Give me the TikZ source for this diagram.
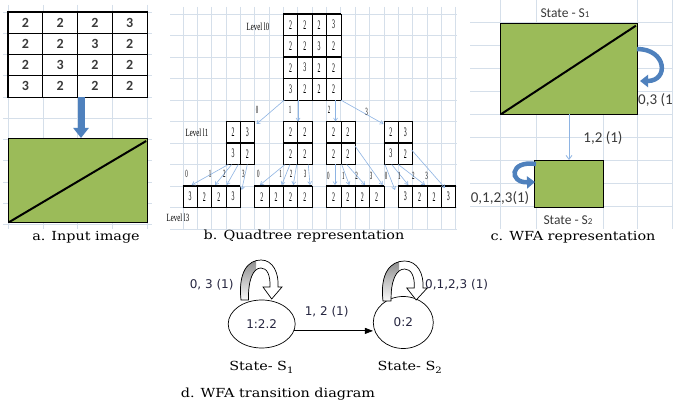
\documentclass[tikz,border=0pt]{standalone}
\usepackage{fontspec}
\usepackage{graphicx}
\setmainfont{DejaVu Serif}
\newfontfamily\calfont{Carlito}
\newfontfamily\vsans{DejaVu Sans}
\newfontfamily\tserif{Liberation Serif}
\usetikzlibrary{arrows.meta,shapes.geometric,calc}

\definecolor{gridc}{HTML}{D5DFEA}
\definecolor{leaf}{HTML}{9BBB59}
\definecolor{bluea}{HTML}{4F81BD}
\definecolor{bluel}{HTML}{8EB4E3}
\definecolor{digc}{HTML}{3A3A3A}
\definecolor{shade}{HTML}{BFBFBF}
\definecolor{labc}{HTML}{262640}

% narrow digits of the quadtree tables
\newcommand\sqz[1]{\scalebox{0.45}[1]{#1}}
\newcommand\sqzl[1]{\scalebox{0.62}[1]{#1}}
% wide serif captions
\newcommand\wide[1]{\scalebox{1.15}[1]{#1}}

\tikzset{
  gridline/.style={gridc, line width=0.5pt},
  capt/.style={font=\fontsize{12.5}{14}\selectfont, inner sep=0},
  acell/.style={draw=black, fill=white, line width=0.8pt, inner sep=0,
    minimum width=34.75pt, minimum height=21.25pt,
    font=\calfont\bfseries\fontsize{14}{14}\selectfont, text=digc},
  qcell/.style={draw=black, fill=white, line width=0.4pt, inner sep=0,
    minimum width=14.35pt, minimum height=21.5pt,
    font=\tserif\fontsize{13}{13}\selectfont},
  qlab/.style={font=\tserif\fontsize{11}{11}\selectfont, inner sep=0},
  qedge/.style={bluel, line width=0.6pt, -{Straight Barb[length=3pt,width=4pt]}},
  tile/.style={draw=black, fill=leaf, line width=1.2pt, inner sep=0, anchor=north west},
  clab/.style={font=\calfont\fontsize{15}{15}\selectfont, inner sep=0, text=digc},
  stlab/.style={font=\calfont\fontsize{13.5}{13.5}\selectfont, inner sep=0, text=digc},
  dlab/.style={font=\vsans\fontsize{12}{12}\selectfont, inner sep=0, text=labc},
  state/.style={draw=black, ellipse, line width=0.7pt, inner sep=0,
    font=\vsans\fontsize{12}{12}\selectfont, text=labc},
  loopar/.style={bluea, line width=4.5pt, -{Triangle[length=8pt,width=12pt]}},
}

% one quadtree table: name, left, top, rows of values
\newcommand\qtab[4]{%
  \foreach \row [count=\r] in {#4} {
    \foreach \v [count=\c] in \row {
      \node[qcell] (#1-\r-\c) at ({#2+14.35*(\c-0.5)},{#3+21.5*(\r-0.5)}) {\sqz{\v}};
    }
  }
  \foreach \row [count=\r] in {#4} {
    \foreach \v [count=\c] in \row {
      \draw[line width=1.3pt] (#1-\r-\c.north west) -- (#1-\r-\c.north east)
                              (#1-\r-\c.south west) -- (#1-\r-\c.south east);
    }
  }
}

% curved block arrow of a self loop
\newcommand\blockloop[1]{%
  \begin{scope}[#1]
    \fill[white] (0,0) .. controls (-3,-28) and (7,-40) .. (20,-40)
      .. controls (32,-40) and (38,-27) .. (37,-13) -- (41,-13) -- (30.7,-1)
      -- (22,-13) -- (29,-13) .. controls (29.5,-25) and (26,-32) .. (20,-32)
      .. controls (12,-32) and (7,-20) .. (7.5,0) -- cycle;
    \begin{scope}
      \clip (0,0) .. controls (-3,-28) and (7,-40) .. (20,-40)
        .. controls (32,-40) and (38,-27) .. (37,-13) -- (41,-13) -- (30.7,-1)
        -- (22,-13) -- (29,-13) .. controls (29.5,-25) and (26,-32) .. (20,-32)
        .. controls (12,-32) and (7,-20) .. (7.5,0) -- cycle;
      \fill[shade] (-6,2) rectangle (15,-45);
    \end{scope}
    \draw[line width=0.7pt] (0,0) .. controls (-3,-28) and (7,-40) .. (20,-40)
      .. controls (32,-40) and (38,-27) .. (37,-13) -- (41,-13) -- (30.7,-1)
      -- (22,-13) -- (29,-13) .. controls (29.5,-25) and (26,-32) .. (20,-32)
      .. controls (12,-32) and (7,-20) .. (7.5,0) -- cycle;
  \end{scope}
}

\begin{document}
\begin{tikzpicture}[x=1pt,y=-1pt]
\useasboundingbox (0,0) rectangle (673,406);
\fill[white] (0,0) rectangle (673,406);
\begin{scope}
\clip (0,0) rectangle (673,406);

% ---------- background grids ----------
\foreach \gx in {8,42.75,77.5,112.25,147} \draw[gridline] (\gx,5) -- (\gx,229);
\foreach \j in {0,...,10} \draw[gridline] (3,{12+21.25*\j}) -- (152,{12+21.25*\j});
\foreach \k in {1,...,20} \draw[gridline] ({168.5+14.35*\k},7) -- ++(0,222);
\foreach \j in {0,...,10} \draw[gridline] (170,{14+21.5*\j}) -- (457,{14+21.5*\j});
\foreach \j in {0,...,8} \draw[gridline] (470,{22.7+22.9*\j}) -- (673,{22.7+22.9*\j});
\foreach \gx in {500,536,637,672} \draw[gridline] (\gx,0) -- (\gx,229);
\draw[gridline] (603,114) -- (603,229);

% ---------- a. input image ----------
\foreach \row [count=\r] in {{2,2,2,3},{2,2,3,2},{2,3,2,2},{3,2,2,2}}
  \foreach \v [count=\c] in \row
    \node[acell] (a-\r-\c) at ({8+34.75*(\c-0.5)},{12+21.25*(\r-0.5)}) {\v};
\draw[line width=1.3pt] (a-1-1.north west) rectangle (a-4-4.south east);

\node[tile, minimum width=139pt, minimum height=84pt] (img) at (8,138) {};
\draw[line width=2pt] ([shift={(1,-1)}]img.south west) -- ([shift={(-2,3)}]img.north east);

\coordinate (aa) at (81,97.5);
\coordinate (ab) at (81,138);
\draw[bluea, line width=7pt, -{Triangle[length=10pt,width=15pt]}] (aa) -- (ab);

\node[capt] (capa) at (86,237) {\wide{a. Input image}};

% ---------- b. quadtree ----------
\qtab{q0}{283.3}{14}{{2,2,2,3},{2,2,3,2},{2,3,2,2},{3,2,2,2}}
\qtab{qa}{225.9}{121.5}{{2,3},{3,2}}
\qtab{qb}{283.3}{121.5}{{2,2},{2,2}}
\qtab{qc}{326.35}{121.5}{{2,2},{2,2}}
\qtab{qd}{383.75}{121.5}{{2,3},{3,2}}
\qtab{ra}{182.85}{186}{{3,2,2,3}}
\qtab{rb}{254.6}{186}{{2,2,2,2}}
\qtab{rc}{326.35}{186}{{2,2,2,2}}
\qtab{rd}{398.1}{186}{{3,2,2,3}}

\node[qlab] (lv0) at (258,27) {\sqzl{Level l0}};
\node[qlab] (lv1) at (197,133) {\sqzl{Level l1}};
\node[qlab] (lv3) at (178,218) {\sqzl{Level l3}};

% root to level one
\foreach \n/\sx/\sy/\ex/\ey/\lx/\ly/\t in {
    0/284.4/100/256.5/124/257/110/0,
    1/298/100/298/121.5/290/110/1,
    2/335.5/100/335.5/121.5/329/110/2,
    3/340.7/100/383.5/124/366.7/112/3} {
  \coordinate (u\n) at (\sx,\sy);
  \coordinate (v\n) at (\ex,\ey);
  \draw[qedge] (u\n) -- (v\n);
  \node[qlab] (m\n) at (\lx,\ly) {\sqz{\t}};
}

% level one to level two
\foreach \n/\sx/\sy/\ex/\ey/\lx/\ly/\t in {
    a0/228.3/164.5/191.7/185/186.7/174.3/0,
    a1/231.7/164.5/215/185/210/174.3/1,
    a2/238.3/164.5/226.7/185/224.3/174.3/2,
    a3/247.3/164.5/241.7/190/243.3/174.3/3,
    b0/285/164.5/260/185/258.3/174.3/0,
    b1/290/164.5/281.7/185/280.7/174.3/1,
    b2/296.7/164.5/293.3/185/291/174.3/2,
    b3/308.3/164.5/310/185/305/174.3/3,
    c0/335/164.5/335/185/328.3/176/0,
    c1/341.7/164.5/349.3/185/343.3/176/1,
    c2/346.7/164.5/365/185/356.7/176/2,
    c3/355/146/382.7/185/371/176/3,
    d0/385/164.5/395/190/386/176/0,
    d1/391.7/164.5/408.3/185/399.3/176/1,
    d2/398.3/164.5/425/185/413.3/176/2,
    d3/411.7/150/445/188/426.7/176/3} {
  \coordinate (u\n) at (\sx,\sy);
  \coordinate (v\n) at (\ex,\ey);
  \draw[qedge] (u\n) -- (v\n);
  \node[qlab] (m\n) at (\lx,\ly) {\sqz{\t}};
}

\node[capt] (capb) at (304,236) {\wide{b. Quadtree representation}};

% ---------- c. WFA representation ----------
\node[tile, minimum width=136.7pt, minimum height=91.3pt] (s1) at (500,22.7) {};
\draw[line width=2pt] ([shift={(1,-1)}]s1.south west) -- ([shift={(-2,3)}]s1.north east);
\node[tile, minimum width=68.7pt, minimum height=46.7pt] (s2) at (534,160) {};

\node[stlab] (s1t) at (565,12.7) {State - S{\small 1}};
\node[stlab] (s2t) at (568,220) {State - S{\small 2}};

\coordinate (p1) at (637,49);
\coordinate (p2) at (640,81);
\draw[loopar] (p1) .. controls (667,49) and (669,81) .. (p2);
\node[clab, anchor=west] (w03) at (638,100) {0,3 (1)};

\coordinate (k1) at (569,114.5);
\coordinate (k2) at (569,160);
\draw[bluel, line width=0.8pt, -{Straight Barb[length=4pt,width=6pt]}] (k1) -- (k2);
\node[clab] (w12) at (603,138) {1,2 (1)};

\coordinate (l1) at (536,164);
\coordinate (l2) at (535,182);
\draw[loopar] (l1) .. controls (509,160) and (509,183) .. (l2);
\node[clab] (w0123) at (500,198) {0,1,2,3(1)};

\node[capt] (capc) at (573,237) {\wide{c. WFA representation}};

% ---------- d. WFA transition diagram ----------
\node[state, minimum width=67pt, minimum height=48pt] (e1) at (261.7,324) {1:2.2};
\node[state, minimum width=60pt, minimum height=52pt] (e2) at (403.3,322.5) {0:2};
\draw[line width=0.8pt, -{Triangle[length=8pt,width=6pt]}] (e1.-12) -- (e1.-12 -| e2.west);
\node[dlab] (t12) at (326.7,311.7) {1, 2 (1)};

\blockloop{shift={(241,300)}}
\blockloop{shift={(383,301)}, xscale=1.08}
\node[dlab] (t03) at (211.7,285) {0, 3 (1)};
\node[dlab, anchor=west] (t0123) at (425,285) {0,1,2,3\,\,(1)};

\node[capt] (n1) at (261.7,367.3) {\wide{State- S\textsubscript{1}}};
\node[capt] (n2) at (410,367.3) {\wide{State- S\textsubscript{2}}};
\node[capt] (capd) at (278,394) {\wide{d. WFA transition diagram}};

\end{scope}
\end{tikzpicture}
\end{document}
